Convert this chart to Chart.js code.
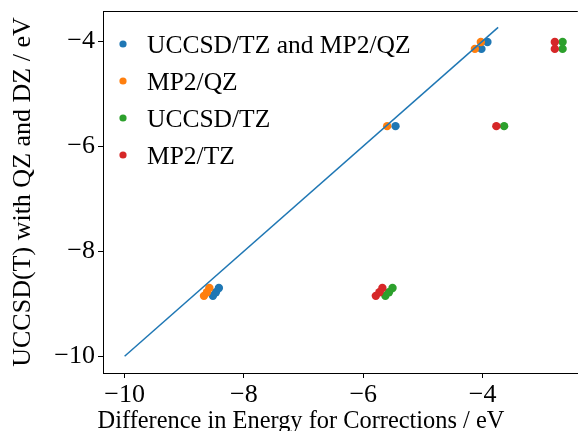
<!DOCTYPE html>
<html>
<head>
<meta charset="utf-8">
<script src="https://cdn.jsdelivr.net/npm/chart.js@4/dist/chart.umd.min.js"></script>
<style>
  html, body { margin: 0; padding: 0; background: #fff; }
  #wrap { width: 582px; height: 431px; }
</style>
</head>
<body>
<div id="wrap"><canvas id="c" width="582" height="431"></canvas></div>
<script>
// Series names and colours
const seriesLabels = ['UCCSD/TZ and MP2/QZ', 'MP2/QZ', 'UCCSD/TZ', 'MP2/TZ'];
const seriesColors = ['#1f77b4', '#ff7f0e', '#2ca02c', '#d62728'];

// UCCSD(T) energies with QZ and DZ (y, eV), shared by every series
const qzDzEnergy = [-4.02, -4.15, -5.62, -8.85, -8.78, -8.70];

// Corrected energy differences (x, eV), one list per correction scheme
const uccsdTzMp2Qz = [-3.92, -4.02, -5.46, -8.52, -8.47, -8.42];
const mp2Qz        = [-4.03, -4.13, -5.60, -8.67, -8.62, -8.58];
const uccsdTz      = [-2.66, -2.66, -3.64, -5.63, -5.57, -5.51];
const mp2Tz        = [-2.79, -2.79, -3.77, -5.79, -5.73, -5.68];

// y = x reference line
const diagonal = [-10, -3.74];

// Tick values
const xTicks = [-10, -8, -6, -4];
const yTicks = [-10, -8, -6, -4];

const seriesX = [uccsdTzMp2Qz, mp2Qz, uccsdTz, mp2Tz];
const FONT = '"Liberation Serif", "DejaVu Serif", serif';
const fmt = v => (v < 0 ? '\u2212' + Math.abs(v) : String(v));

const scatterSets = seriesX.map((xs, i) => ({
  label: seriesLabels[i],
  data: xs.map((x, k) => ({ x: x, y: qzDzEnergy[k] })),
  backgroundColor: seriesColors[i],
  borderWidth: 0,
  pointRadius: 4.2,
  pointHoverRadius: 4.2,
  order: 5 - i
}));

const lineSet = {
  type: 'line',
  label: 'y = x',
  data: diagonal.map(v => ({ x: v, y: v })),
  borderColor: '#1f77b4',
  borderWidth: 1.5,
  pointRadius: 0,
  fill: false,
  order: 0
};

// keep the plot area exactly where the layout padding puts it
const noEdgePadding = s => {
  s.paddingTop = 0; s.paddingBottom = 0;
  s.paddingLeft = 0; s.paddingRight = 0;
};

const decorations = {
  id: 'decorations',
  afterDraw(chart) {
    const { ctx, chartArea } = chart;
    ctx.save();
    // top spine
    ctx.strokeStyle = '#000';
    ctx.lineWidth = 1;
    ctx.beginPath();
    ctx.moveTo(chartArea.left, chartArea.top + 0.5);
    ctx.lineTo(chartArea.right, chartArea.top + 0.5);
    ctx.stroke();

    // legend
    ctx.font = '25.5px ' + FONT;
    ctx.textAlign = 'left';
    ctx.textBaseline = 'alphabetic';
    scatterSets.forEach((ds, i) => {
      const y = chartArea.top + 33 + 37 * i;
      ctx.fillStyle = ds.backgroundColor;
      ctx.beginPath();
      ctx.arc(chartArea.left + 20, y, 3.6, 0, Math.PI * 2);
      ctx.fill();
      ctx.fillStyle = '#000';
      ctx.fillText(ds.label, chartArea.left + 44, y + 8.5);
    });

    // x axis title
    ctx.font = '24.4px ' + FONT;
    ctx.textAlign = 'center';
    ctx.fillText('Difference in Energy for Corrections / eV', 301, 428);
    ctx.restore();
  }
};

new Chart(document.getElementById('c'), {
  type: 'scatter',
  data: { datasets: [lineSet, ...scatterSets] },
  options: {
    responsive: false,
    animation: false,
    devicePixelRatio: 1,
    layout: { padding: { top: 11, left: 0, right: 0, bottom: 0 } },
    plugins: { legend: { display: false }, tooltip: { enabled: false } },
    scales: {
      x: {
        type: 'linear',
        min: -10.362,
        max: -2.405,
        afterBuildTicks: s => { s.ticks = xTicks.map(v => ({ value: v })); },
        afterFit: s => { s.height = 58; noEdgePadding(s); },
        grid: { drawOnChartArea: false, tickLength: 5, tickColor: '#000', tickWidth: 1 },
        border: { color: '#000', width: 1 },
        ticks: {
          font: { family: FONT, size: 26 },
          color: '#000',
          padding: 2,
          maxRotation: 0,
          autoSkip: false,
          callback: v => fmt(v)
        }
      },
      y: {
        type: 'linear',
        min: -10.318,
        max: -3.429,
        afterBuildTicks: s => { s.ticks = yTicks.map(v => ({ value: v })); },
        afterFit: s => { s.width = 103; noEdgePadding(s); },
        grid: { drawOnChartArea: false, tickLength: 5, tickColor: '#000', tickWidth: 1 },
        border: { color: '#000', width: 1 },
        title: {
          display: true,
          text: 'UCCSD(T) with QZ and DZ / eV',
          font: { family: FONT, size: 26 },
          color: '#000',
          padding: { top: 8, bottom: 0 }
        },
        ticks: {
          font: { family: FONT, size: 26 },
          color: '#000',
          padding: 3,
          autoSkip: false,
          callback: v => fmt(v)
        }
      }
    }
  },
  plugins: [decorations]
});
</script>
</body>
</html>
